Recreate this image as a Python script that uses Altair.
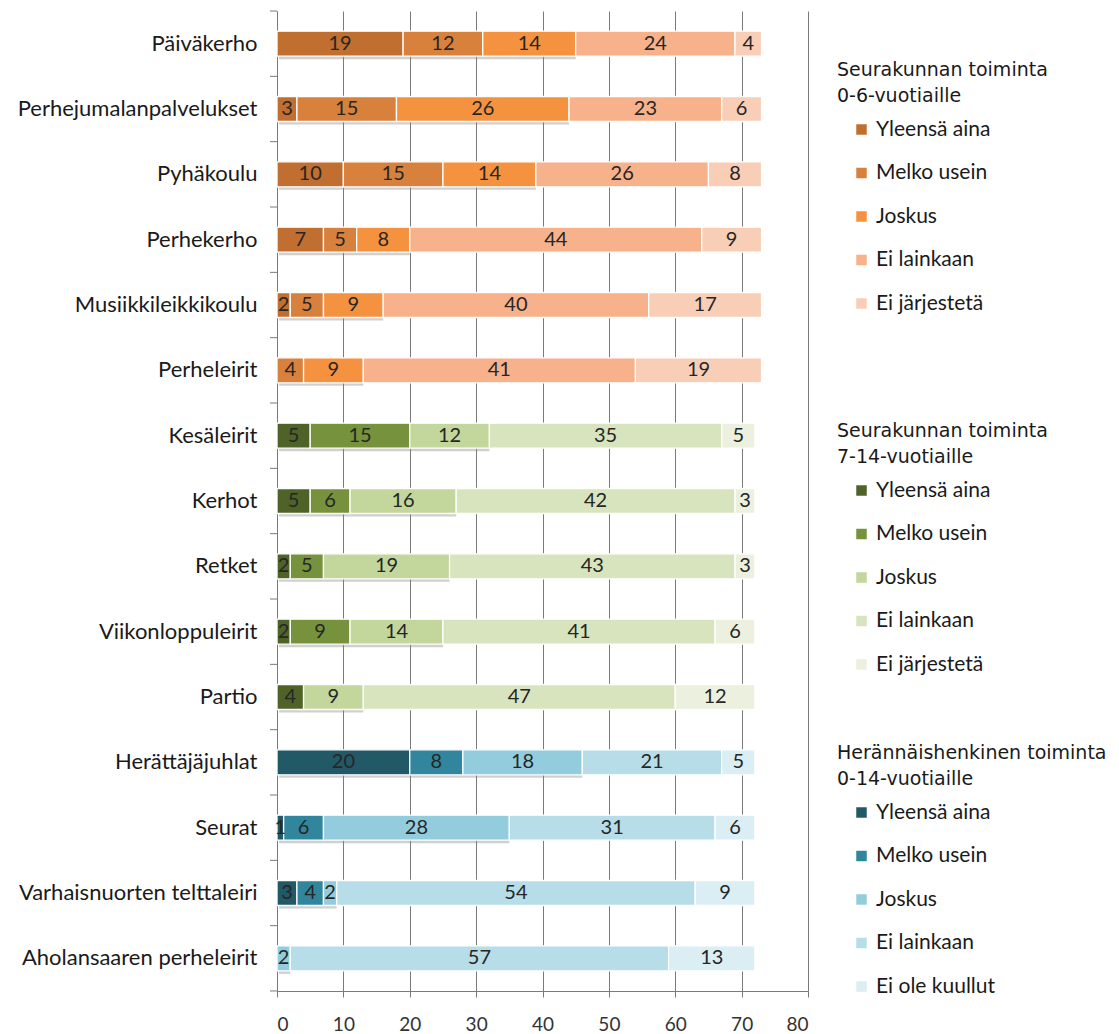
import altair as alt
import pandas as pd

categories = ["Päiväkerho", "Perhejumalanpalvelukset", "Pyhäkoulu", "Perhekerho",
              "Musiikkileikkikoulu", "Perheleirit",
              "Kesäleirit", "Kerhot", "Retket", "Viikonloppuleirit", "Partio",
              "Herättäjäjuhlat", "Seurat", "Varhaisnuorten telttaleiri",
              "Aholansaaren perheleirit"]
groups = ["A"] * 6 + ["B"] * 5 + ["C"] * 4

yleensa_aina = [19, 3, 10, 7, 2, 0, 5, 5, 2, 2, 4, 20, 1, 3, 0]
melko_usein = [12, 15, 15, 5, 5, 4, 15, 6, 5, 9, 0, 8, 6, 4, 0]
joskus = [14, 26, 14, 8, 9, 9, 12, 16, 19, 14, 9, 18, 28, 2, 2]
ei_lainkaan = [24, 23, 26, 44, 40, 41, 35, 42, 43, 41, 47, 21, 31, 54, 57]
ei_jarjesteta = [4, 6, 8, 9, 17, 19, 5, 3, 3, 6, 12, 5, 6, 9, 13]

series_A = ["Yleensä aina", "Melko usein", "Joskus", "Ei lainkaan", "Ei järjestetä"]
series_B = ["Yleensä aina", "Melko usein", "Joskus", "Ei lainkaan", "Ei järjestetä"]
series_C = ["Yleensä aina", "Melko usein", "Joskus", "Ei lainkaan", "Ei ole kuullut"]

titles = {
    "A": ["Seurakunnan toiminta", "0-6-vuotiaille"],
    "B": ["Seurakunnan toiminta", "7-14-vuotiaille"],
    "C": ["Herännäishenkinen toiminta", "0-14-vuotiaille"],
}
colors = {
    "A": ["#C06F30", "#D8813C", "#F4923F", "#F7B18B", "#F9CEB6"],
    "B": ["#4F6228", "#76923C", "#C3D69B", "#D7E4BD", "#EBF1DE"],
    "C": ["#215967", "#31859C", "#93CDDD", "#B7DEE8", "#DAEEF3"],
}
series_names = {"A": series_A, "B": series_B, "C": series_C}

rows = []
shadow_rows = []
values = [yleensa_aina, melko_usein, joskus, ei_lainkaan, ei_jarjesteta]
for i, cat in enumerate(categories):
    g = groups[i]
    start = 0
    for k in range(5):
        v = values[k][i]
        if v > 0:
            rows.append({"cat": cat, "group": g, "series": series_names[g][k],
                         "value": v, "start": start, "end": start + v,
                         "mid": start + v / 2})
        start += v
    s3 = yleensa_aina[i] + melko_usein[i] + joskus[i]
    shadow_rows.append({"cat": cat, "start": 0, "end": s3})

df = pd.DataFrame(rows)
sdf = pd.DataFrame(shadow_rows)

STEP = 65.3
LABEL_FONT = "Lato"
TITLE_FONT = "DejaVu Sans"
GRID = "#7a7a7a"

y_enc = alt.Y("cat:N", sort=categories, title=None,
              scale=alt.Scale(paddingInner=0.617, paddingOuter=0.3085),
              axis=alt.Axis(labelFontSize=22, labelFont=LABEL_FONT, labelColor="#1a1a1a",
                            ticks=False, domainColor=GRID, domainWidth=1,
                            labelPadding=20, minExtent=269, maxExtent=269,
                            labelLimit=300))
x_scale = alt.Scale(domain=[0, 80], nice=False)
x_axis = alt.Axis(values=[0, 10, 20, 30, 40, 50, 60, 70, 80], grid=True,
                  gridColor=GRID, gridWidth=1, domainColor=GRID,
                  tickColor=GRID, tickSize=6, labelFontSize=19,
                  labelFont=LABEL_FONT, labelColor="#333333", labelPadding=18,
                  title=None)

legend_y = {"A": 50, "B": 411, "C": 733}

shadow = alt.Chart(sdf).mark_bar(color="#8a8a8a", opacity=0.4, yOffset=3, xOffset=2).encode(
    x=alt.X("start:Q", scale=x_scale, axis=x_axis),
    x2="end:Q",
    y=y_enc,
)

bar_layers = []
for g in ["A", "B", "C"]:
    layer = alt.Chart(df[df["group"] == g]).mark_bar(stroke="white", strokeWidth=1.3).encode(
        x=alt.X("start:Q", scale=x_scale, axis=x_axis),
        x2="end:Q",
        y=y_enc,
        color=alt.Color("series:N",
                        scale=alt.Scale(domain=series_names[g], range=colors[g]),
                        legend=alt.Legend(
                            title=titles[g], orient="none", legendX=560,
                            legendY=legend_y[g], symbolType="square",
                            symbolSize=110, symbolOffset=14, symbolStrokeWidth=0,
                            labelFontSize=21, labelFont=LABEL_FONT, labelColor="#1a1a1a",
                            labelOffset=4, titleFontSize=19, titleFont=TITLE_FONT,
                            titleFontWeight="normal", titleColor="#1a1a1a",
                            titleLineHeight=26, titlePadding=13, rowPadding=21.5,
                            padding=0, labelLimit=300, titleLimit=400)),
    )
    bar_layers.append(layer)

text = alt.Chart(df).mark_text(fontSize=20, font=LABEL_FONT, color="#262626",
                               baseline="middle", align="center").encode(
    x=alt.X("mid:Q", scale=x_scale, axis=x_axis),
    y=y_enc,
    text="value:Q",
)

ytick = alt.Chart(sdf).mark_rule(color=GRID, yOffset=-STEP / 2).encode(
    x=alt.value(-7), x2=alt.value(0), y=y_enc,
)
ytick_bottom = alt.Chart(sdf.iloc[[-1]]).mark_rule(color=GRID, yOffset=STEP / 2).encode(
    x=alt.value(-7), x2=alt.value(0), y=y_enc,
)

chart = alt.layer(shadow, *bar_layers, text, ytick, ytick_bottom).resolve_scale(
    color="independent"
).properties(
    width=531, height=980,
    padding={"left": 0, "top": 2, "right": 0, "bottom": 0},
    background="white",
).configure_view(strokeWidth=0)

chart.save("out.html", embed_options={"renderer": "svg", "actions": False})
